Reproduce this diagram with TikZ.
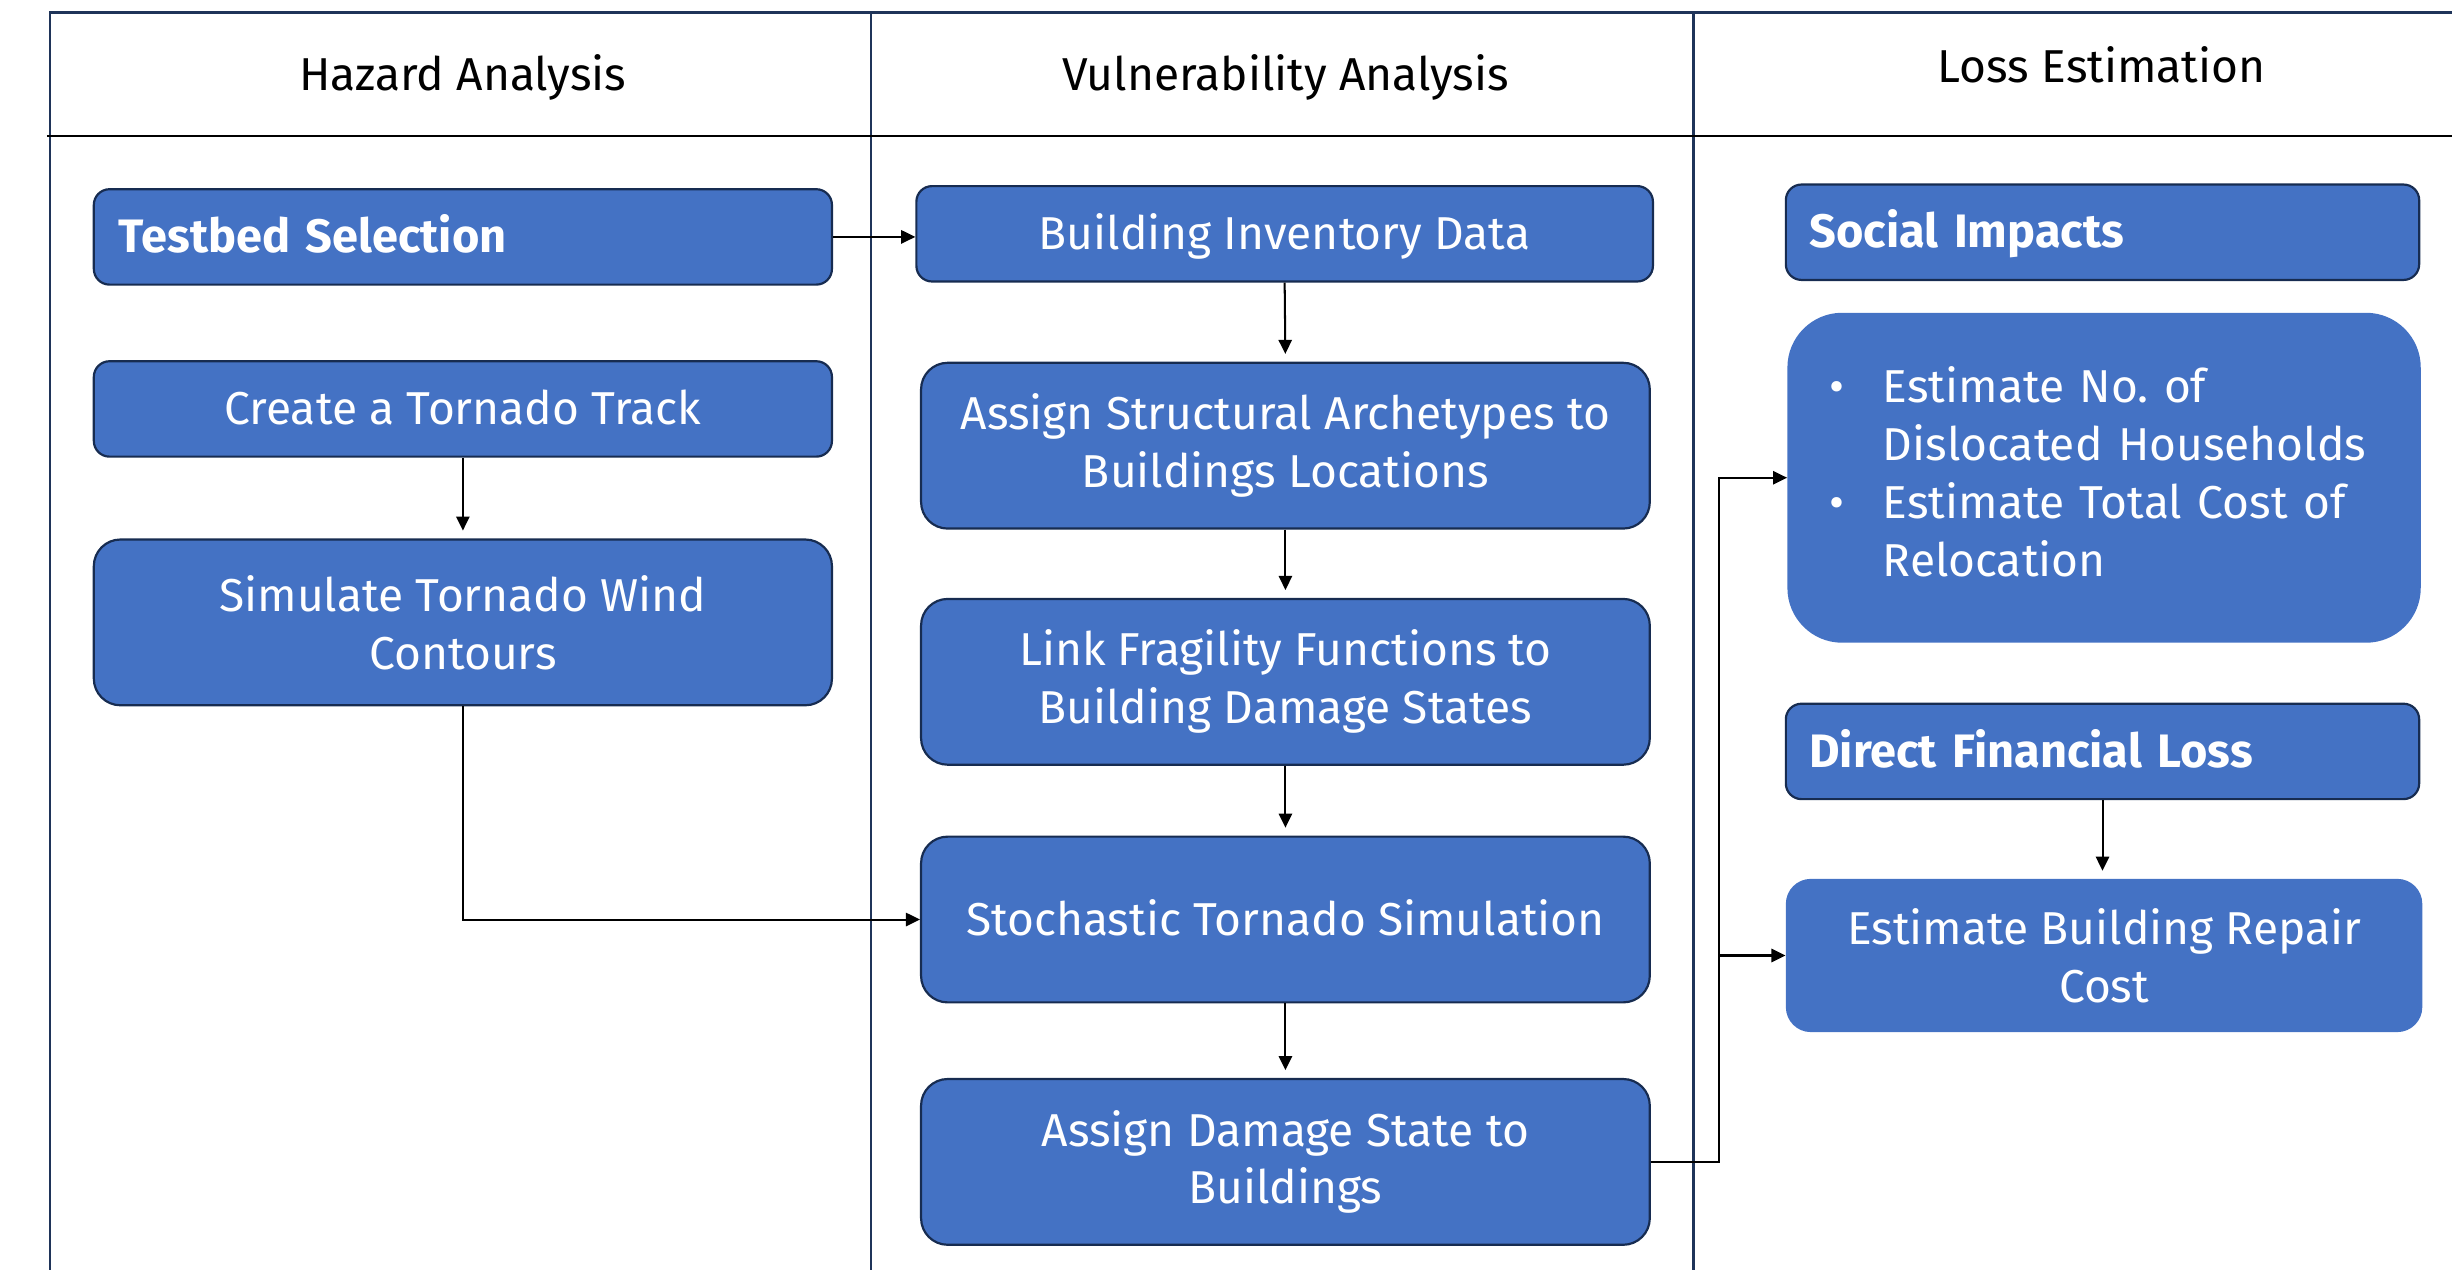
\documentclass[tikz,border=0pt]{standalone}
\usepackage{fontspec}
\setmainfont{Fira Sans}
\usetikzlibrary{arrows.meta,calc}
\definecolor{boxblue}{HTML}{4472C4}
\definecolor{boxedge}{HTML}{172C51}
\definecolor{framec}{HTML}{1F3459}
\frenchspacing
\begin{document}
\begin{tikzpicture}[x=1pt,y=-1pt,
  every node/.style={font=\fontsize{29.5}{37}\selectfont},
  boldf/.style={font=\fontsize{30}{37}\selectfont\bfseries},
  oneline/.style={text height=24pt, text depth=4pt},
  proc/.style={draw=boxedge, line width=1.4pt, fill=boxblue, text=white, align=center, inner sep=0pt},
  plain/.style={fill=boxblue, text=white, inner sep=0pt},
  hdr/.style={text=black, inner sep=0pt},
  conn/.style={draw=black, line width=1.3pt, -{Triangle[length=9pt,width=8.5pt]}},
  framel/.style={draw=framec, line width=1.5pt}]
\useasboundingbox (0,0) rectangle (1568,812);
% frame
\draw[framel] (32,812) -- (32,8) -- (1568,8);
\draw[framel] (557,8) -- (557,812);
\draw[framel] (1083,8) -- (1083,812);
\draw[black, line width=1.8pt] (30,87) -- (1568,87);
% headers
\node[hdr, oneline] (h1) at (296,48) {Hazard Analysis};
\node[hdr, oneline] (h2) at (822,48) {Vulnerability Analysis};
\node[hdr, oneline] (h3) at (1344,43) {Loss Estimation};
% hazard column
\node[proc, oneline, minimum width=472, minimum height=61, rounded corners=10, text width=440, inner xsep=16pt, align=left, boldf] (tb) at (296,151.5) {Testbed Selection};
\node[proc, oneline, minimum width=472, minimum height=61, rounded corners=10] (ct) at (296,261.5) {Create a Tornado Track};
\node[proc, minimum width=472, minimum height=106, rounded corners=17] (sim) at (296,398) {Simulate Tornado Wind\\Contours};
% vulnerability column
\node[proc, oneline, minimum width=471, minimum height=61, rounded corners=10] (bid) at (821.5,149.5) {Building Inventory Data};
\node[proc, minimum width=466, minimum height=106, rounded corners=17] (asa) at (822,285) {Assign Structural Archetypes to\\Buildings Locations};
\node[proc, minimum width=466, minimum height=106, rounded corners=17] (lff) at (822,436) {Link Fragility Functions to\\Building Damage States};
\node[proc, oneline, minimum width=466, minimum height=106, rounded corners=17] (sts) at (822,588) {Stochastic Tornado Simulation};
\node[proc, minimum width=466, minimum height=106, rounded corners=17] (ads) at (822,743) {Assign Damage State to\\Buildings};
% loss column
\node[proc, oneline, minimum width=405, minimum height=61, rounded corners=10, text width=375, inner xsep=15pt, align=left, boldf] (soc) at (1344.5,148.5) {Social Impacts};
\node[plain, minimum width=405, minimum height=211, rounded corners=35, text width=351, inner xsep=27pt, align=left] (bul) at (1345.5,305.5)
  {\begin{tabular}{@{}p{34pt}@{}l@{}}\textbullet & Estimate No. of\\ & Dislocated Households\\ \textbullet & Estimate Total Cost of\\ & Relocation\end{tabular}};
\node[proc, oneline, minimum width=405, minimum height=61, rounded corners=10, text width=375, inner xsep=15pt, align=left, boldf] (dfl) at (1344.5,480.5) {Direct Financial Loss};
\node[plain, minimum width=407, minimum height=98, rounded corners=16, align=center] (rep) at (1345.5,611) {Estimate Building Repair\\Cost};
% connectors
\coordinate (jx) at (1099,743);
\draw[conn] (tb.east) -- (tb.east -| bid.west);
\draw[conn, shorten >=5pt] (ct.south) -- (sim.north);
\draw[conn] (sim.south) |- (sts.west);
\draw[conn, shorten >=5pt] (bid.south) -- (asa.north);
\draw[conn, shorten >=5pt] (asa.south) -- (lff.north);
\draw[conn, shorten >=5pt] (lff.south) -- (sts.north);
\draw[conn, shorten >=5pt] (sts.south) -- (ads.north);
\draw[conn] (ads.east) -- (jx) |- (bul.west);
\draw[conn] (jx |- rep.west) -- (rep.west);
\draw[conn, shorten >=5pt] (dfl.south) -- (dfl.south |- rep.north);
\end{tikzpicture}
\end{document}
